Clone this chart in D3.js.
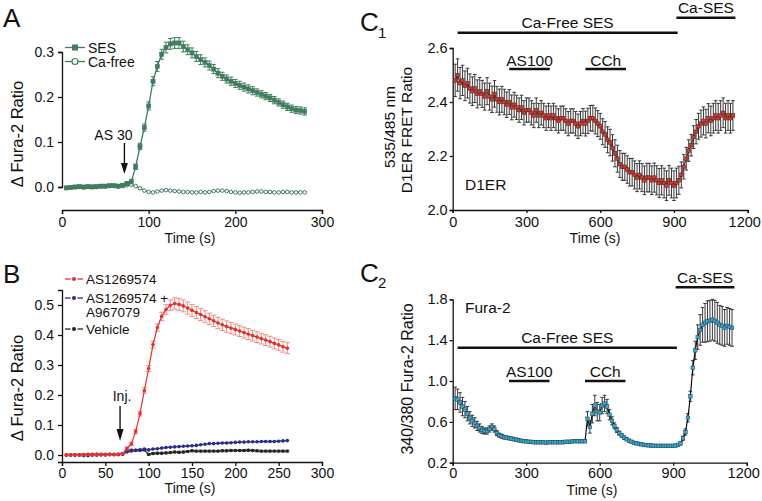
<!DOCTYPE html>
<html><head><meta charset="utf-8">
<script src="https://cdn.jsdelivr.net/npm/d3@7"></script>
<style>body{margin:0;background:#fff}svg text{font-family:"Liberation Sans",Arial,Helvetica,sans-serif}</style>
</head><body><svg id="fig" width="762" height="501"></svg>
<script>
// ---------------- DATA ----------------
// Panel A
const aTime = d3.range(5, 281, 5);
const aSES = [-0.002,-0.001,0.000,0.001,0.000,0.001,0.000,0.001,0.002,0.002,
  0.003,0.003,0.002,0.004,0.008,0.012,0.045,0.090,0.132,0.180,
  0.235,0.268,0.295,0.310,0.318,0.320,0.320,0.312,0.305,0.298,
  0.290,0.283,0.277,0.270,0.262,0.253,0.246,0.240,0.235,0.230,
  0.226,0.222,0.218,0.214,0.210,0.206,0.202,0.198,0.193,0.188,
  0.183,0.178,0.174,0.171,0.170,0.168];
const aSESErr = [0.003,0.003,0.003,0.003,0.003,0.003,0.003,0.003,0.003,0.003,
  0.003,0.003,0.003,0.003,0.004,0.005,0.006,0.007,0.008,0.009,
  0.010,0.011,0.011,0.012,0.012,0.012,0.012,0.012,0.011,0.011,
  0.011,0.011,0.010,0.010,0.010,0.010,0.009,0.009,0.009,0.009,
  0.009,0.009,0.009,0.009,0.008,0.008,0.008,0.008,0.008,0.008,
  0.008,0.008,0.008,0.008,0.008,0.008];
const aCaFree = [-0.002,-0.001,0.000,0.000,-0.001,0.000,0.001,0.000,0.001,0.001,
  0.002,0.002,0.001,0.002,0.004,0.005,0.002,-0.003,-0.008,-0.011,
  -0.012,-0.010,-0.008,-0.007,-0.008,-0.009,-0.010,-0.011,-0.011,-0.012,
  -0.012,-0.011,-0.012,-0.011,-0.009,-0.008,-0.008,-0.009,-0.011,-0.012,
  -0.013,-0.012,-0.012,-0.011,-0.010,-0.010,-0.011,-0.011,-0.012,-0.012,
  -0.011,-0.011,-0.012,-0.012,-0.012,-0.012];
const aXTicks = [0, 100, 200, 300];
const aYTicks = [0, 0.1, 0.2, 0.3];
const aSeriesNames = ["SES", "Ca-free"];
const aArrowTime = 72, aArrowLabel = "AS 30";

// Panel B
const bTime = d3.range(5, 261, 5);
const bAS = [0.000,0.001,0.001,0.000,0.001,0.002,0.001,0.002,0.002,0.001,
  0.002,0.002,0.003,0.005,0.022,0.037,0.078,0.138,0.215,0.288,
  0.368,0.425,0.462,0.485,0.499,0.505,0.502,0.497,0.490,0.482,
  0.475,0.468,0.461,0.454,0.447,0.440,0.434,0.428,0.423,0.418,
  0.413,0.408,0.403,0.398,0.393,0.388,0.383,0.378,0.372,0.367,
  0.361,0.356];
const bASErr = [0.002,0.002,0.002,0.002,0.002,0.002,0.002,0.002,0.002,0.002,
  0.002,0.002,0.002,0.003,0.005,0.006,0.007,0.008,0.009,0.010,
  0.011,0.012,0.014,0.016,0.018,0.019,0.020,0.020,0.020,0.020,
  0.020,0.020,0.020,0.019,0.019,0.019,0.019,0.019,0.019,0.018,
  0.018,0.018,0.018,0.018,0.018,0.018,0.018,0.018,0.018,0.018,
  0.018,0.018];
const bASA9 = [0.000,0.000,-0.001,-0.001,-0.002,-0.002,-0.001,-0.001,0.000,0.000,
  0.001,0.001,0.001,0.003,0.010,0.013,0.015,0.017,0.020,0.017,
  0.020,0.021,0.023,0.025,0.026,0.027,0.028,0.029,0.030,0.031,
  0.032,0.034,0.036,0.038,0.038,0.039,0.040,0.040,0.041,0.042,
  0.043,0.043,0.044,0.044,0.044,0.045,0.045,0.045,0.045,0.046,
  0.047,0.048];
const bVeh = [0.000,0.000,0.001,0.001,0.002,0.002,0.003,0.003,0.002,0.003,
  0.003,0.002,0.002,0.003,0.015,0.016,0.016,0.016,0.017,0.002,
  0.005,0.006,0.006,0.007,0.008,0.010,0.009,0.010,0.012,0.014,
  0.013,0.013,0.013,0.013,0.013,0.013,0.014,0.014,0.015,0.015,
  0.015,0.015,0.016,0.015,0.014,0.013,0.013,0.013,0.013,0.013,
  0.013,0.013];
const bVehErr = [0.002,0.002,0.002,0.002,0.002,0.002,0.002,0.002,0.002,0.002,
  0.002,0.002,0.002,0.002,0.003,0.003,0.003,0.003,0.003,0.003,
  0.003,0.003,0.003,0.003,0.003,0.003,0.003,0.003,0.003,0.003,
  0.003,0.003,0.003,0.003,0.003,0.003,0.003,0.003,0.003,0.003,
  0.003,0.003,0.003,0.003,0.003,0.003,0.003,0.003,0.003,0.003,
  0.003,0.003];
const bXTicks = [0, 50, 100, 150, 200, 250, 300];
const bYTicks = [0, 0.1, 0.2, 0.3, 0.4, 0.5];
const bSeriesNames = [["AS1269574"], ["AS1269574 +", "A967079"], ["Vehicle"]];
const bArrowTime = 67, bArrowLabel = "Inj.";

// Panel C1 / C2
const cTime = d3.range(10, 1141, 10);
const c1Ratio = [2.48,2.50,2.47,2.48,2.46,2.47,2.45,2.44,2.45,2.43,
  2.44,2.43,2.42,2.44,2.42,2.41,2.43,2.41,2.40,2.41,
  2.40,2.39,2.40,2.38,2.39,2.38,2.37,2.38,2.36,2.37,
  2.37,2.36,2.35,2.37,2.35,2.36,2.35,2.34,2.35,2.34,
  2.35,2.34,2.33,2.34,2.34,2.33,2.32,2.33,2.33,2.32,
  2.31,2.32,2.33,2.32,2.33,2.34,2.34,2.33,2.32,2.31,
  2.29,2.28,2.26,2.25,2.23,2.21,2.19,2.17,2.16,2.16,
  2.15,2.14,2.14,2.13,2.12,2.13,2.12,2.11,2.12,2.12,
  2.11,2.12,2.11,2.10,2.11,2.10,2.09,2.11,2.10,2.09,
  2.10,2.11,2.13,2.16,2.19,2.22,2.24,2.27,2.29,2.31,
  2.32,2.33,2.32,2.34,2.33,2.34,2.35,2.34,2.35,2.36,
  2.34,2.35,2.34,2.35];
const c1Err = [0.060,0.060,0.058,0.056,0.055,0.055,0.054,0.053,0.052,0.052,
  0.051,0.050,0.050,0.050,0.050,0.049,0.049,0.048,0.048,0.048,
  0.047,0.047,0.046,0.046,0.046,0.045,0.045,0.045,0.045,0.045,
  0.045,0.045,0.045,0.045,0.045,0.045,0.045,0.045,0.045,0.045,
  0.045,0.045,0.045,0.045,0.045,0.045,0.045,0.045,0.045,0.045,
  0.045,0.045,0.046,0.046,0.047,0.047,0.048,0.048,0.048,0.048,
  0.048,0.048,0.048,0.049,0.049,0.050,0.050,0.050,0.050,0.050,
  0.051,0.051,0.051,0.052,0.052,0.052,0.052,0.053,0.053,0.053,
  0.053,0.054,0.054,0.054,0.054,0.055,0.055,0.055,0.055,0.055,
  0.055,0.052,0.048,0.045,0.042,0.040,0.040,0.042,0.045,0.048,
  0.050,0.052,0.053,0.054,0.055,0.055,0.055,0.055,0.055,0.055,
  0.055,0.055,0.055,0.055];
const c2Ratio = [0.83,0.82,0.79,0.75,0.72,0.68,0.64,0.61,0.59,0.56,
  0.54,0.52,0.51,0.51,0.53,0.55,0.53,0.49,0.47,0.46,
  0.45,0.445,0.44,0.435,0.43,0.425,0.42,0.415,0.41,0.41,
  0.405,0.405,0.40,0.40,0.40,0.40,0.40,0.395,0.40,0.40,
  0.40,0.40,0.40,0.40,0.40,0.405,0.405,0.405,0.41,0.41,
  0.41,0.41,0.41,0.41,0.63,0.55,0.68,0.76,0.70,0.69,
  0.76,0.78,0.75,0.67,0.61,0.56,0.52,0.49,0.465,0.445,
  0.43,0.415,0.405,0.395,0.39,0.385,0.38,0.375,0.372,0.37,
  0.368,0.366,0.365,0.365,0.365,0.365,0.365,0.365,0.365,0.365,
  0.368,0.375,0.39,0.44,0.50,0.64,0.85,1.13,1.30,1.43,
  1.50,1.55,1.57,1.585,1.59,1.60,1.59,1.57,1.55,1.54,
  1.52,1.54,1.53,1.52];
const c2Err = [0.110,0.100,0.095,0.090,0.080,0.070,0.060,0.055,0.050,0.045,
  0.040,0.035,0.030,0.030,0.030,0.030,0.030,0.025,0.020,0.020,
  0.018,0.016,0.015,0.015,0.015,0.014,0.014,0.013,0.013,0.012,
  0.012,0.012,0.012,0.012,0.012,0.012,0.012,0.012,0.012,0.012,
  0.012,0.012,0.012,0.012,0.012,0.012,0.012,0.012,0.012,0.012,
  0.012,0.012,0.012,0.012,0.070,0.060,0.090,0.100,0.090,0.080,
  0.080,0.080,0.070,0.050,0.040,0.030,0.025,0.020,0.018,0.016,
  0.015,0.014,0.013,0.012,0.012,0.012,0.012,0.012,0.012,0.012,
  0.012,0.012,0.012,0.012,0.012,0.012,0.012,0.012,0.012,0.012,
  0.012,0.014,0.016,0.020,0.030,0.040,0.050,0.070,0.090,0.120,
  0.150,0.170,0.190,0.200,0.200,0.200,0.200,0.200,0.190,0.190,
  0.180,0.180,0.180,0.180];
const cXTicks = [0, 300, 600, 900, 1200];
const c1YTicks = [2.0, 2.2, 2.4, 2.6];
const c2YTicks = [0.2, 0.6, 1.0, 1.4, 1.8];
const condLabels = ["Ca-Free SES", "Ca-SES", "AS100", "CCh"];
const condStart = [20, 910, 230, 540];
const condEnd = [915, 1150, 395, 705];

// ---------------- DRAWING ----------------
const svg = d3.select("#fig");
const INK = "#111";
const GREEN = "#3f7d5d";

function drawAxes(x, y, xAxisY, yAxisX, xTicks, yTicks, yFmt, fs, tsz, xpad, ypad) {
  const gx = svg.append("g").attr("transform", `translate(0,${xAxisY})`)
    .call(d3.axisBottom(x).tickValues(xTicks).tickFormat(d3.format("d")).tickSizeOuter(0).tickSize(tsz).tickPadding(xpad));
  const gy = svg.append("g").attr("transform", `translate(${yAxisX},0)`)
    .call(d3.axisLeft(y).tickValues(yTicks).tickFormat(d3.format(yFmt)).tickSizeOuter(0).tickSize(tsz).tickPadding(ypad));
  [gx, gy].forEach(g => {
    g.selectAll("text").attr("font-size", fs).attr("fill", INK).attr("font-family", null);
    g.selectAll("line,path").attr("stroke", INK).attr("stroke-width", 1.3);
  });
  return gx;
}
function text(x, y, s, fs, anchor, rot) {
  const t = svg.append("text").attr("x", x).attr("y", y).attr("font-size", fs)
    .attr("fill", INK).attr("text-anchor", anchor || "start").text(s);
  if (rot) t.attr("transform", `rotate(${rot},${x},${y})`);
  return t;
}
function errBars(g, xs, ys, es, x, y, color, cap, sw) {
  xs.forEach((t, i) => {
    const px = x(t), y1 = y(ys[i] + es[i]), y2 = y(ys[i] - es[i]);
    g.append("line").attr("x1", px).attr("x2", px).attr("y1", y1).attr("y2", y2);
    g.append("line").attr("x1", px - cap).attr("x2", px + cap).attr("y1", y1).attr("y2", y1);
    g.append("line").attr("x1", px - cap).attr("x2", px + cap).attr("y1", y2).attr("y2", y2);
  });
  g.attr("stroke", color).attr("stroke-width", sw).attr("fill", "none");
}
function line(xs, ys, x, y, color, w) {
  svg.append("path").datum(xs.map((t, i) => [t, ys[i]]))
    .attr("d", d3.line().x(d => x(d[0])).y(d => y(d[1])))
    .attr("fill", "none").attr("stroke", color).attr("stroke-width", w);
}
function squares(xs, ys, x, y, s, fill, stroke, sw) {
  svg.append("g").selectAll("rect").data(xs).join("rect")
    .attr("x", (t) => x(t) - s / 2).attr("y", (t, i) => y(ys[i]) - s / 2)
    .attr("width", s).attr("height", s).attr("fill", fill).attr("stroke", stroke).attr("stroke-width", sw);
}
function dots(xs, ys, x, y, r, fill, stroke, sw) {
  svg.append("g").selectAll("circle").data(xs).join("circle")
    .attr("cx", t => x(t)).attr("cy", (t, i) => y(ys[i])).attr("r", r)
    .attr("fill", fill).attr("stroke", stroke).attr("stroke-width", sw);
}
function arrow(px, yTop, yTip, w, h) {
  svg.append("line").attr("x1", px).attr("x2", px).attr("y1", yTop).attr("y2", yTip - h + 1)
    .attr("stroke", INK).attr("stroke-width", 1.4);
  svg.append("path").attr("d", `M${px - w / 2},${yTip - h}L${px + w / 2},${yTip - h}L${px},${yTip}Z`).attr("fill", INK);
}

// ===== Panel A =====
{
  const x = d3.scaleLinear().domain([0, 300]).range([62, 322]);
  const y = d3.scaleLinear().domain([0, 0.3]).range([187, 52]);
  drawAxes(x, y, 210, 62, aXTicks, aYTicks, ".1f", 14, 4, 3, 4);
  text(3, 27, "A", 26);
  text(23, 134, "\u0394 Fura-2 Ratio", 16.5, "middle", -90);
  text(190, 243, "Time (s)", 14, "middle");
  line(aTime, aCaFree, x, y, GREEN, 1.1);
  dots(aTime, aCaFree, x, y, 1.8, "#fff", GREEN, 1);
  errBars(svg.append("g"), aTime, aSES, aSESErr, x, y, GREEN, 2.2, 1);
  line(aTime, aSES, x, y, GREEN, 1.3);
  squares(aTime, aSES, x, y, 4.2, GREEN, GREEN, 0.5);
  svg.append("line").attr("x1", 65).attr("x2", 85).attr("y1", 47.5).attr("y2", 47.5).attr("stroke", GREEN).attr("stroke-width", 1.3);
  svg.append("rect").attr("x", 72).attr("y", 44.5).attr("width", 6).attr("height", 6).attr("fill", GREEN);
  svg.append("line").attr("x1", 65).attr("x2", 85).attr("y1", 61.5).attr("y2", 61.5).attr("stroke", GREEN).attr("stroke-width", 1.3);
  svg.append("circle").attr("cx", 75).attr("cy", 61.5).attr("r", 3).attr("fill", "#fff").attr("stroke", GREEN).attr("stroke-width", 1.2);
  text(88, 52.5, aSeriesNames[0], 14);
  text(88, 67, aSeriesNames[1], 14);
  text(x(aArrowTime) - 11, 140, aArrowLabel, 14, "middle");
  arrow(x(aArrowTime), 143, 174, 7, 11);
}

// ===== Panel B =====
{
  const x = d3.scaleLinear().domain([0, 300]).range([62, 322]);
  const y = d3.scaleLinear().domain([-0.0233, 0.55]).range([462, 290]);
  drawAxes(x, y, 462, 62, bXTicks, bYTicks, ".1f", 14, 4, 2, 4);
  text(3, 283, "B", 26);
  text(23, 388, "\u0394 Fura-2 Ratio", 16.5, "middle", -90);
  text(190, 493, "Time (s)", 14, "middle");
  const RED = "#e4302b", PINK = "#f08c86", NAVY = "#2b2b8c", BLK = "#222";
  errBars(svg.append("g"), bTime, bVeh, bVehErr, x, y, "#666", 2, 1);
  line(bTime, bVeh, x, y, BLK, 1.2);
  dots(bTime, bVeh, x, y, 1.7, BLK, "none", 0);
  line(bTime, bASA9, x, y, NAVY, 1.3);
  dots(bTime, bASA9, x, y, 1.8, NAVY, "none", 0);
  errBars(svg.append("g"), bTime, bAS, bASErr, x, y, PINK, 2.6, 1);
  line(bTime, bAS, x, y, RED, 1.2);
  dots(bTime, bAS, x, y, 1.8, RED, "none", 0);
  const legY = [279, 298, 329], legC = [RED, NAVY, BLK];
  legY.forEach((ly, i) => {
    svg.append("line").attr("x1", 65).attr("x2", 70.5).attr("y1", ly).attr("y2", ly).attr("stroke", legC[i]).attr("stroke-width", 1.3);
    svg.append("line").attr("x1", 77.5).attr("x2", 83).attr("y1", ly).attr("y2", ly).attr("stroke", legC[i]).attr("stroke-width", 1.3);
    svg.append("circle").attr("cx", 74).attr("cy", ly).attr("r", 2).attr("fill", legC[i]);
  });
  text(86, 283.5, bSeriesNames[0][0], 13.5);
  text(86, 302.5, bSeriesNames[1][0], 13.5);
  text(86, 317, bSeriesNames[1][1], 13.5);
  text(86, 333.5, bSeriesNames[2][0], 13.5);
  text(x(bArrowTime) + 2, 401, bArrowLabel, 14, "middle");
  arrow(x(bArrowTime), 406, 441, 7, 12);
}

function condBars(x, lineY, textY) {
  condLabels.forEach((lab, i) => {
    svg.append("line").attr("x1", x(condStart[i])).attr("x2", x(condEnd[i]))
      .attr("y1", lineY[i]).attr("y2", lineY[i]).attr("stroke", INK).attr("stroke-width", 2.6);
    text((x(condStart[i]) + x(condEnd[i])) / 2, textY[i], lab, 15.5, "middle");
  });
}
function nudgeLast(gx) {
  gx.selectAll(".tick text").filter(d => d === 1200).attr("dx", -3.5);
}

// ===== Panel C1 =====
{
  const x = d3.scaleLinear().domain([0, 1200]).range([452.7, 747.7]);
  const y = d3.scaleLinear().domain([2.0, 2.6]).range([210, 48]);
  nudgeLast(drawAxes(x, y, 210, 452.7, cXTicks, c1YTicks, ".1f", 14.5, 3, 4, 2));
  text(360, 31, "C", 26);
  text(378, 38, "1", 15);
  text(395, 127, "535/485 nm", 15.5, "middle", -90);
  text(412, 130, "D1ER FRET Ratio", 15.5, "middle", -90);
  text(595, 243, "Time (s)", 14, "middle");
  text(465, 190, "D1ER", 15.5);
  condBars(x, [32.7, 17.7, 69, 69], [28, 13, 66, 66]);
  errBars(svg.append("g"), cTime, c1Ratio, c1Err, x, y, "#2e2e2e", 1.8, 0.95);
  line(cTime, c1Ratio, x, y, "#2a1010", 1);
  squares(cTime, c1Ratio, x, y, 3.6, "#cc3b33", "#5a1a14", 0.5);
}

// ===== Panel C2 =====
{
  const x = d3.scaleLinear().domain([0, 1200]).range([452.7, 746.7]);
  const y = d3.scaleLinear().domain([0.2, 1.8]).range([462.7, 299.3]);
  nudgeLast(drawAxes(x, y, 462.7, 452.7, cXTicks, c2YTicks, ".1f", 14.5, 3, 2, 2));
  text(360, 282, "C", 26);
  text(378, 288, "2", 15);
  text(413, 379, "340/380 Fura-2 Ratio", 16, "middle", -90);
  text(592, 495, "Time (s)", 14, "middle");
  text(465, 313, "Fura-2", 15.5);
  condBars(x, [347.7, 287.3, 381, 381], [343, 282.5, 376.5, 376.5]);
  errBars(svg.append("g"), cTime, c2Ratio, c2Err, x, y, "#2e2e2e", 1.8, 0.95);
  line(cTime, c2Ratio, x, y, "#111", 1.2);
  squares(cTime, c2Ratio, x, y, 3.6, "#3aa6cc", "#1a4658", 0.5);
}
</script></body></html>
